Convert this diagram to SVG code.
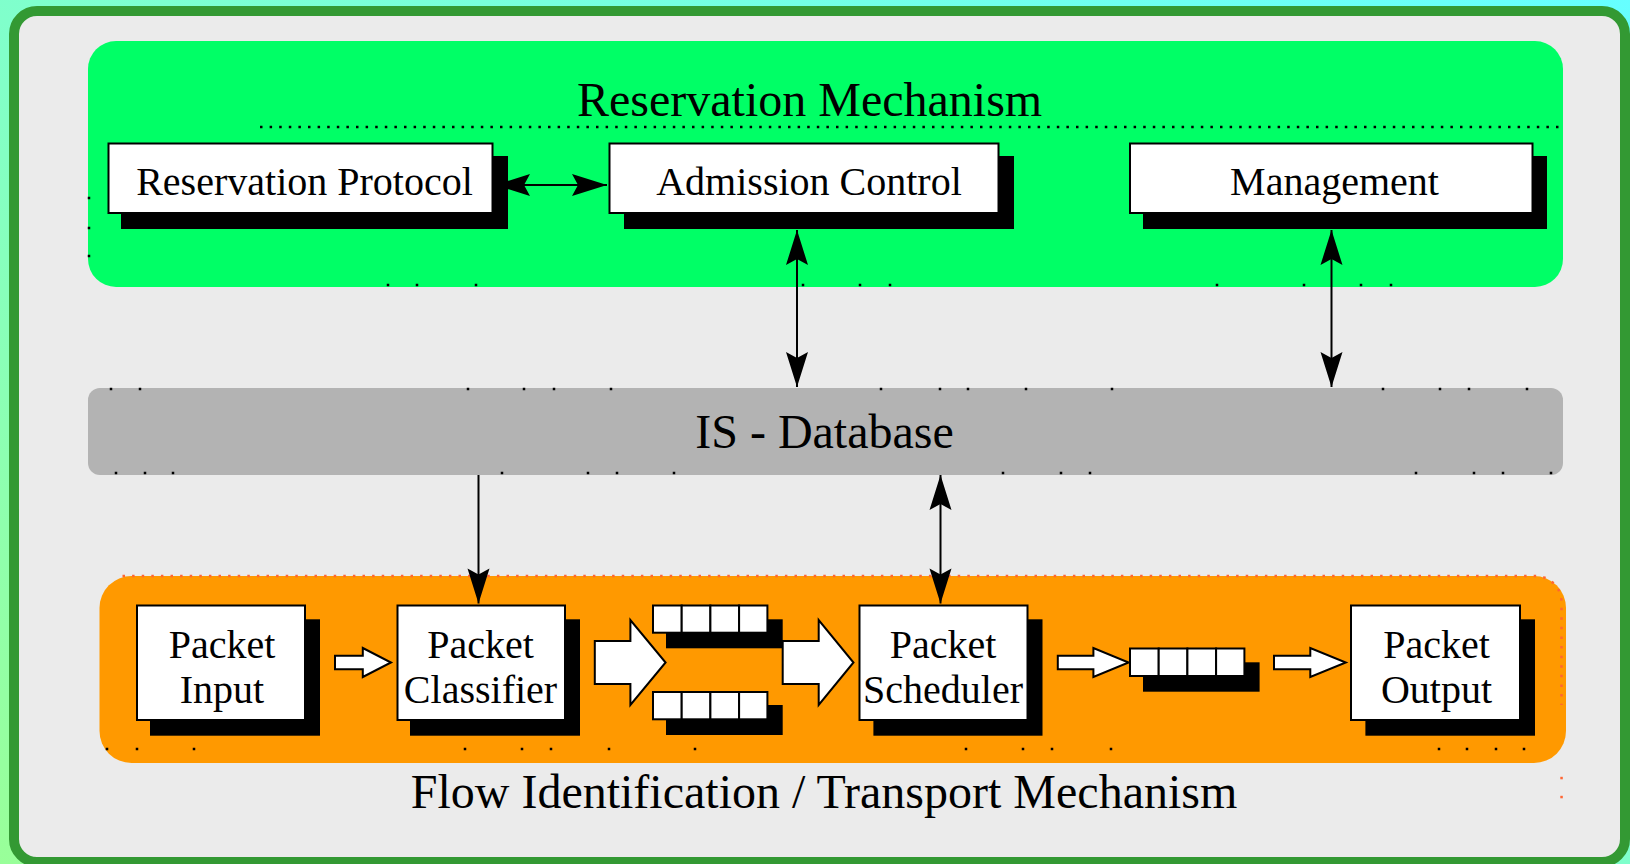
<svg xmlns="http://www.w3.org/2000/svg" width="1630" height="864" viewBox="0 0 1630 864">
<defs>
<linearGradient id="bg" x1="0" y1="1" x2="1" y2="0">
<stop offset="0" stop-color="#99ff99"/>
<stop offset="1" stop-color="#66ffff"/>
</linearGradient>
<marker id="ah" viewBox="-36 -12 37 24" refX="0" refY="0" markerWidth="37" markerHeight="24" markerUnits="userSpaceOnUse" orient="auto-start-reverse">
<path d="M0,0 L-35,-11 L-29,0 L-35,11 Z" fill="#000"/>
</marker>
<g id="dot"><rect x="-1.25" y="-1.25" width="2.5" height="2.5" fill="#000"/></g>
</defs>
<style>
.t{font-family:"Liberation Serif","Times New Roman",serif;fill:#000;text-anchor:middle}
.big{font-size:48px}
.lbl{font-size:40px}
.box{fill:#fff;stroke:#000;stroke-width:2}
.sh{fill:#000}
.cell{fill:#fff;stroke:#000;stroke-width:2}
.ln{stroke:#000;stroke-width:2;fill:none}
.hol{fill:#fff;stroke:#000;stroke-width:2;stroke-linejoin:miter}
</style>
<rect x="0" y="0" width="1630" height="864" fill="url(#bg)"/>
<g id="frame">
<rect x="14" y="11" width="1611" height="851" rx="23" fill="#ebebeb" stroke="#339933" stroke-width="10"/>
</g>
<g id="reservation-mechanism">
<rect x="88" y="41" width="1475" height="246" rx="28" fill="#00ff66"/>
<line x1="260" y1="127" x2="1563" y2="127" stroke="#000" stroke-width="2.5" stroke-dasharray="2.5 7.1"/>
<text class="t big" x="809.6" y="116">Reservation Mechanism</text>
<use href="#dot" x="89" y="198"/><use href="#dot" x="89" y="228"/><use href="#dot" x="89" y="256"/>
<use href="#dot" x="388" y="285"/><use href="#dot" x="417" y="285"/><use href="#dot" x="476" y="285"/>
<use href="#dot" x="803" y="285"/><use href="#dot" x="860" y="285"/><use href="#dot" x="890" y="285"/>
<use href="#dot" x="1217" y="285"/><use href="#dot" x="1304" y="285"/><use href="#dot" x="1361" y="285"/><use href="#dot" x="1391" y="285"/>
</g>
<g id="is-database">
<rect x="88" y="388" width="1475" height="87" rx="12" fill="#b3b3b3"/>
<text class="t big" x="824.5" y="448">IS - Database</text>
<use href="#dot" x="111" y="389"/><use href="#dot" x="140" y="389"/><use href="#dot" x="468" y="389"/><use href="#dot" x="524" y="389"/><use href="#dot" x="554" y="389"/><use href="#dot" x="611" y="389"/><use href="#dot" x="881" y="389"/><use href="#dot" x="940" y="389"/><use href="#dot" x="968" y="389"/><use href="#dot" x="1026" y="389"/><use href="#dot" x="1112" y="389"/><use href="#dot" x="1383" y="389"/><use href="#dot" x="1440" y="389"/><use href="#dot" x="1469" y="389"/><use href="#dot" x="1527" y="389"/>
<use href="#dot" x="116" y="473"/><use href="#dot" x="145" y="473"/><use href="#dot" x="173" y="473"/><use href="#dot" x="502" y="473"/><use href="#dot" x="588" y="473"/><use href="#dot" x="617" y="473"/><use href="#dot" x="674" y="473"/><use href="#dot" x="1003" y="473"/><use href="#dot" x="1061" y="473"/><use href="#dot" x="1090" y="473"/><use href="#dot" x="1416" y="473"/><use href="#dot" x="1474" y="473"/><use href="#dot" x="1503" y="473"/><use href="#dot" x="1551" y="473"/>
</g>
<g id="flow-transport">
<rect x="99.5" y="576" width="1466.5" height="187" rx="32" fill="#ff9900"/>
<path d="M122.5,576 H1535 A26,26 0 0 1 1561.5,602 V705" fill="none" stroke="#ff6633" stroke-width="2.5" stroke-dasharray="2.5 7.1"/>
<rect x="1560.3" y="776.8" width="2.5" height="2.5" fill="#ff6633"/>
<rect x="1560.3" y="795.8" width="2.5" height="2.5" fill="#ff6633"/>
<use href="#dot" x="107" y="749"/><use href="#dot" x="137" y="749"/><use href="#dot" x="194" y="749"/><use href="#dot" x="465" y="749"/><use href="#dot" x="522" y="749"/><use href="#dot" x="551" y="749"/><use href="#dot" x="609" y="749"/><use href="#dot" x="695" y="749"/><use href="#dot" x="966" y="749"/><use href="#dot" x="1023" y="749"/><use href="#dot" x="1052" y="749"/><use href="#dot" x="1111" y="749"/><use href="#dot" x="1439" y="749"/><use href="#dot" x="1467" y="749"/><use href="#dot" x="1496" y="749"/><use href="#dot" x="1524" y="749"/>
<text class="t big" x="824" y="808">Flow Identification / Transport Mechanism</text>
</g>
<g id="connectors">
<line class="ln" x1="495" y1="185" x2="607" y2="185" marker-start="url(#ah)" marker-end="url(#ah)"/>
<line class="ln" x1="797" y1="230" x2="797" y2="387" marker-start="url(#ah)" marker-end="url(#ah)"/>
<line class="ln" x1="1331.5" y1="230" x2="1331.5" y2="387" marker-start="url(#ah)" marker-end="url(#ah)"/>
<line class="ln" x1="478.5" y1="475" x2="478.5" y2="603.5" marker-end="url(#ah)"/>
<line class="ln" x1="940.5" y1="475" x2="940.5" y2="603.5" marker-start="url(#ah)" marker-end="url(#ah)"/>
<polygon class="hol" points="335,655.7 362.8,655.7 362.8,648 391,662.5 362.8,677 362.8,669.3 335,669.3"/>
<polygon class="hol" points="594.8,641 630.4,641 630.4,620 665.6,662.5 630.4,705 630.4,684 594.8,684"/>
<polygon class="hol" points="782.7,641 818.7,641 818.7,620 853.5,662.5 818.7,705 818.7,684 782.7,684"/>
<polygon class="hol" points="1057.8,655.7 1093.4,655.7 1093.4,648 1128.6,662.5 1093.4,677 1093.4,669.3 1057.8,669.3"/>
<polygon class="hol" points="1274,655.7 1310.3,655.7 1310.3,648 1345.8,662.5 1310.3,677 1310.3,669.3 1274,669.3"/>
</g>
<g id="reservation-protocol">
<rect class="sh" x="121" y="156" width="387" height="73"/>
<rect class="box" x="108.5" y="143.5" width="384" height="69.5"/>
<text class="t lbl" x="304.5" y="195">Reservation Protocol</text>
</g>
<g id="admission-control">
<rect class="sh" x="624" y="156" width="390" height="73"/>
<rect class="box" x="609.5" y="143.5" width="389" height="69.5"/>
<text class="t lbl" x="809" y="195">Admission Control</text>
</g>
<g id="management">
<rect class="sh" x="1143" y="156" width="404" height="73"/>
<rect class="box" x="1130" y="143.5" width="402.5" height="69.5"/>
<text class="t lbl" x="1334.5" y="195">Management</text>
</g>
<g id="packet-input">
<rect class="sh" x="150" y="619.3" width="170" height="116.4"/>
<rect class="box" x="137" y="605.5" width="168" height="114.5"/>
<text class="t lbl" x="222" y="658">Packet</text>
<text class="t lbl" x="222" y="703">Input</text>
</g>
<g id="packet-classifier">
<rect class="sh" x="410" y="619.3" width="170" height="116.4"/>
<rect class="box" x="397.5" y="605.5" width="167.5" height="114.5"/>
<text class="t lbl" x="480.5" y="658">Packet</text>
<text class="t lbl" x="480.5" y="703">Classifier</text>
</g>
<g id="queue-1">
<rect class="sh" x="666" y="619.3" width="116.7" height="29"/>
<rect class="cell" x="653" y="605.5" width="28.7" height="27.2"/>
<rect class="cell" x="681.7" y="605.5" width="28.7" height="27.2"/>
<rect class="cell" x="710.4" y="605.5" width="28.7" height="27.2"/>
<rect class="cell" x="739.1" y="605.5" width="28.3" height="27.2"/>
</g>
<g id="queue-2">
<rect class="sh" x="666" y="705" width="116.7" height="30"/>
<rect class="cell" x="653" y="692" width="28.7" height="27.3"/>
<rect class="cell" x="681.7" y="692" width="28.7" height="27.3"/>
<rect class="cell" x="710.4" y="692" width="28.7" height="27.3"/>
<rect class="cell" x="739.1" y="692" width="28.3" height="27.3"/>
</g>
<g id="packet-scheduler">
<rect class="sh" x="873.4" y="619.3" width="169.1" height="116.4"/>
<rect class="box" x="859.5" y="605.5" width="168" height="114.5"/>
<text class="t lbl" x="943" y="658">Packet</text>
<text class="t lbl" x="943" y="703">Scheduler</text>
</g>
<g id="queue-3">
<rect class="sh" x="1143" y="662.3" width="116.6" height="29.4"/>
<rect class="cell" x="1130" y="648.5" width="28.7" height="27.5"/>
<rect class="cell" x="1158.7" y="648.5" width="28.7" height="27.5"/>
<rect class="cell" x="1187.4" y="648.5" width="28.7" height="27.5"/>
<rect class="cell" x="1216.1" y="648.5" width="28.3" height="27.5"/>
</g>
<g id="packet-output">
<rect class="sh" x="1365.4" y="619.3" width="169.6" height="116.4"/>
<rect class="box" x="1351" y="605.5" width="169" height="114.5"/>
<text class="t lbl" x="1436.5" y="658">Packet</text>
<text class="t lbl" x="1436.5" y="703">Output</text>
</g>
</svg>
